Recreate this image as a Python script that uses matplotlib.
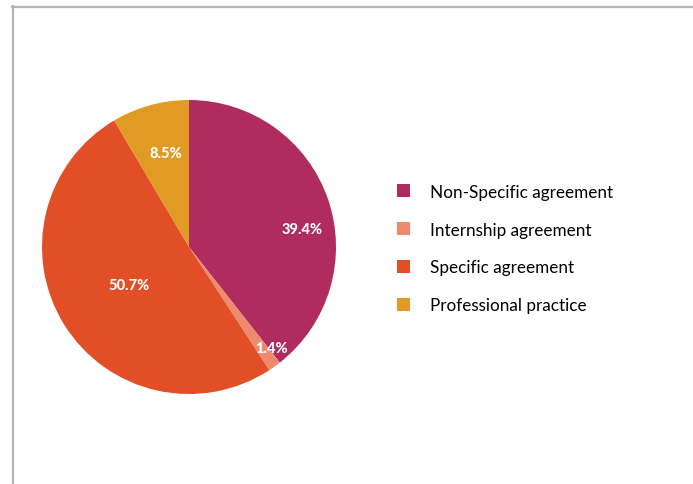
import matplotlib
matplotlib.use('Agg')
from matplotlib import pyplot as plt
from matplotlib.lines import Line2D
from matplotlib.patches import Patch

plt.rcParams['font.family'] = ['Lato', 'DejaVu Sans']

categories = ['Non-Specific agreement', 'Internship agreement', 'Specific agreement', 'Professional practice']
values = [39.4, 1.4, 50.7, 8.5]
colors = ['#b02b5e', '#ee8a6e', '#e24e25', '#e19a23']
# label spots (x, y) in pie radius units, as placed in the original
label_pos = [(0.77, 0.12), (0.56, -0.69), (-0.41, -0.26), (-0.16, 0.64)]

fig = plt.figure(figsize=(6.93, 4.85), dpi=100)

# grey frame lines, top and left
fig.add_artist(Line2D([12 / 693, 1], [1 - 7.5 / 485, 1 - 7.5 / 485], color='#b4b4b4', lw=1.6))
fig.add_artist(Line2D([13 / 693, 13 / 693], [0, 1 - 7 / 485], color='#b4b4b4', lw=1.6))

ax = fig.add_axes([(189 - 147) / 693, (485 - 248 - 147) / 485, 294 / 693, 294 / 485])
wedges, texts, autotexts = ax.pie(values, colors=colors, startangle=90, counterclock=False,
                                  radius=1, autopct='%1.1f%%',
                                  textprops=dict(color='white', fontsize=10.5, fontweight='black'))
for t, (x, y) in zip(autotexts, label_pos):
    t.set_position((x, y))
ax.set_xlim(-1, 1)
ax.set_ylim(-1, 1)
ax.axis('off')

handles = [Patch(facecolor=c, edgecolor='none') for c in colors]
fig.legend(handles, categories, loc='center left', bbox_to_anchor=(397 / 693, 1 - 249.5 / 485),
           frameon=False, fontsize=12.3, handlelength=0.78, handleheight=0.78,
           handletextpad=1.15, labelspacing=1.28, borderpad=0, borderaxespad=0)

plt.savefig('out.png', dpi=100)
